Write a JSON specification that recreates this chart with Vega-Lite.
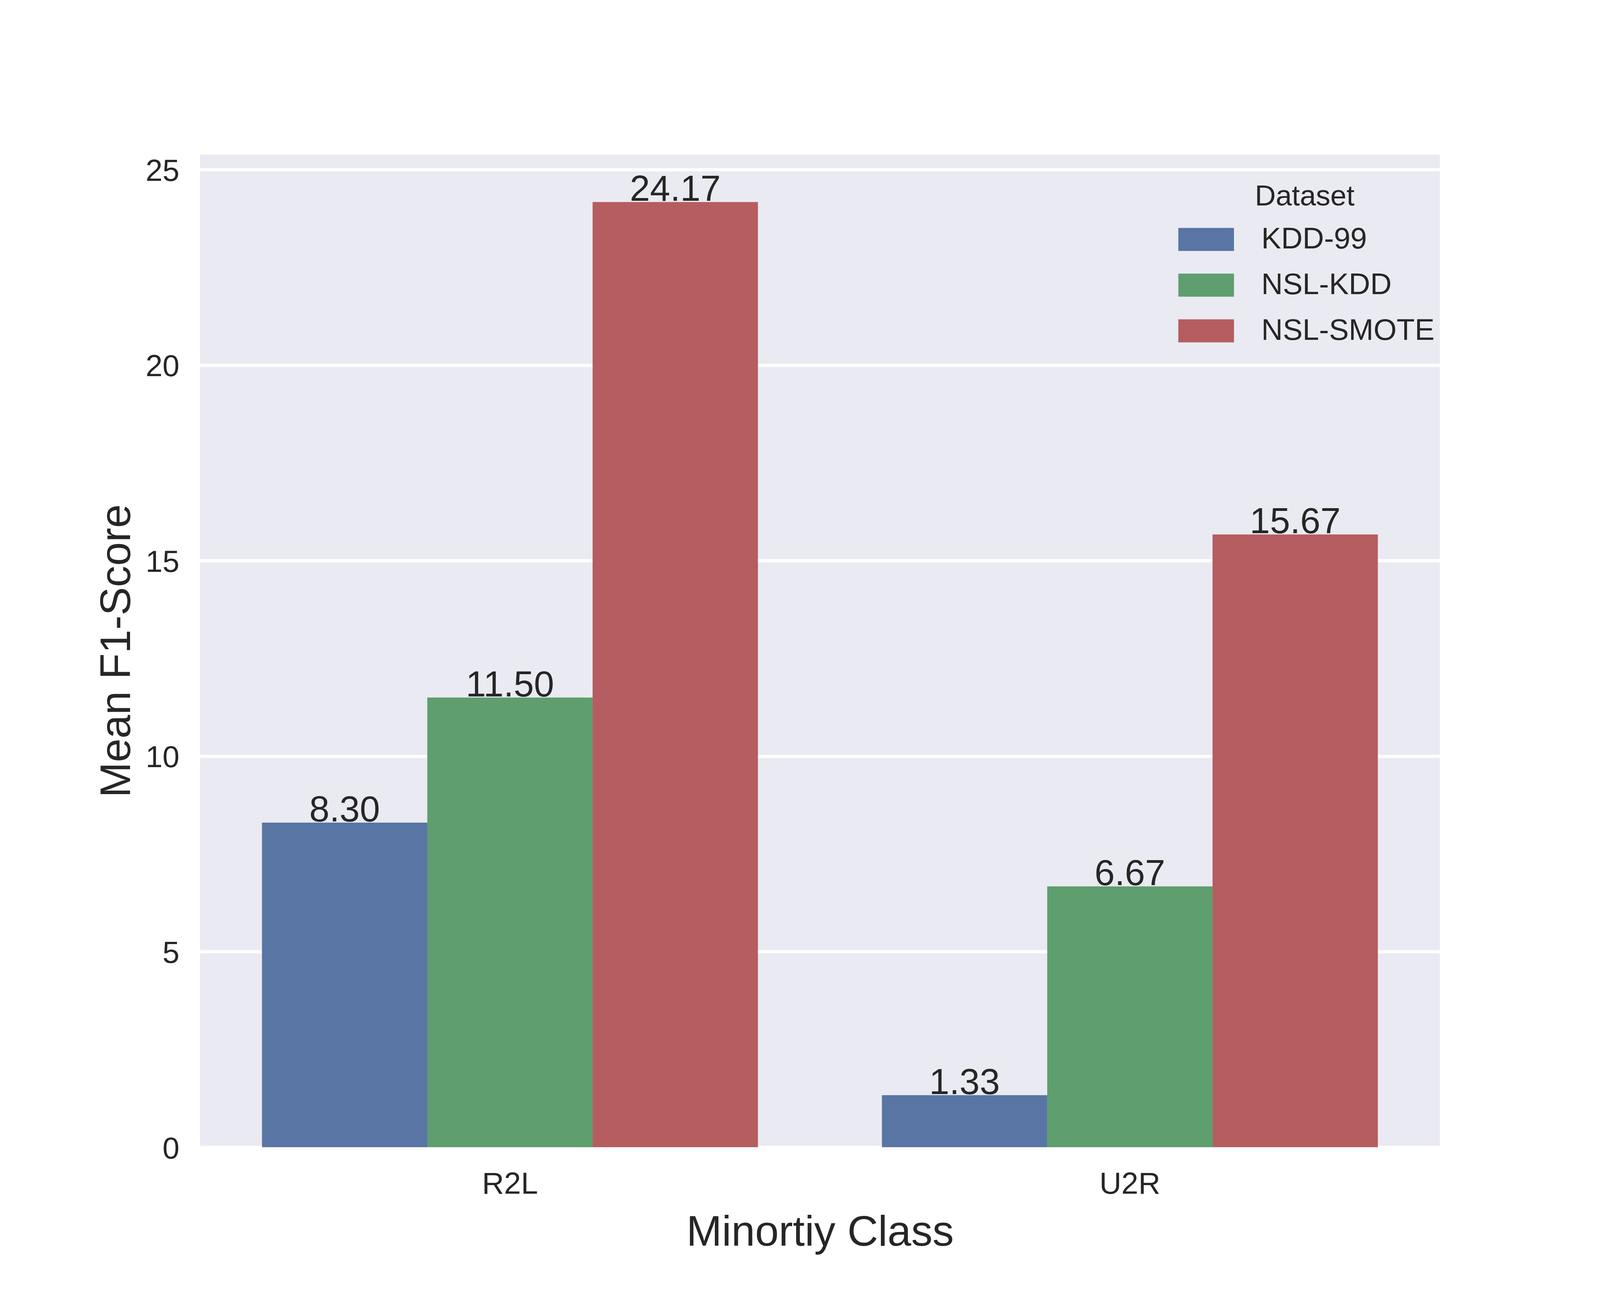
{
  "$schema": "https://vega.github.io/schema/vega-lite/v6.json",
  "width": 3174,
  "height": 2541,
  "autosize": {"type": "none"},
  "padding": {"left": 512, "top": 396, "right": 410, "bottom": 363},
  "background": "white",
  "config": {
    "font": "Liberation Sans",
    "view": {"fill": "#EAEAF2", "stroke": null},
    "axis": {
      "domain": false,
      "ticks": false,
      "tickSize": 0,
      "labelColor": "#262626",
      "titleColor": "#262626",
      "labelFontSize": 78,
      "titleFontSize": 109,
      "titleFontWeight": "normal",
      "gridColor": "white",
      "gridWidth": 8
    },
    "legend": {
      "labelFontSize": 76,
      "titleFontSize": 74,
      "titleFontWeight": "normal",
      "labelColor": "#262626",
      "titleColor": "#262626",
      "labelLimit": 2000,
      "titleLimit": 2000
    }
  },
  "data": {
    "values": [
      {"cls": "R2L", "Dataset": "KDD-99", "score": 8.30},
      {"cls": "R2L", "Dataset": "NSL-KDD", "score": 11.50},
      {"cls": "R2L", "Dataset": "NSL-SMOTE", "score": 24.17},
      {"cls": "U2R", "Dataset": "KDD-99", "score": 1.33},
      {"cls": "U2R", "Dataset": "NSL-KDD", "score": 6.67},
      {"cls": "U2R", "Dataset": "NSL-SMOTE", "score": 15.67}
    ]
  },
  "encoding": {
    "x": {
      "field": "cls",
      "type": "nominal",
      "title": "Minortiy Class",
      "scale": {"paddingInner": 0.2, "paddingOuter": 0.1},
      "axis": {
        "grid": false,
        "labelAngle": 0,
        "labelBaseline": "alphabetic",
        "labelPadding": 118,
        "titleX": 1587,
        "titleY": 251,
        "titleBaseline": "alphabetic",
        "titleAlign": "center"
      }
    },
    "xOffset": {
      "field": "Dataset",
      "type": "nominal",
      "scale": {"paddingInner": 0, "paddingOuter": 0}
    },
    "y": {
      "field": "score",
      "type": "quantitative",
      "title": "Mean F1-Score",
      "scale": {"domain": [0, 25.38], "nice": false, "zero": true},
      "axis": {
        "values": [0, 5, 10, 15, 20, 25],
        "grid": true,
        "labelPadding": 53,
        "labelBaseline": "alphabetic",
        "labelOffset": 28,
        "titleAngle": -90,
        "titleX": -180,
        "titleY": 1270,
        "titleBaseline": "alphabetic",
        "titleAlign": "center"
      }
    }
  },
  "layer": [
    {
      "mark": {"type": "bar"},
      "encoding": {
        "color": {
          "field": "Dataset",
          "type": "nominal",
          "scale": {
            "domain": ["KDD-99", "NSL-KDD", "NSL-SMOTE"],
            "range": ["#5975a4", "#5f9e6e", "#b55d60"]
          },
          "legend": {
            "orient": "none",
            "legendX": 2496,
            "legendY": 72,
            "symbolType": "M-1,-1H3.83V1H-1Z",
            "symbolSize": 3481,
            "symbolStrokeWidth": 0,
            "symbolOpacity": 1,
            "labelOffset": 145,
            "rowPadding": 41,
            "titlePadding": 33,
            "titleAnchor": "middle",
            "titleAlign": "center"
          }
        }
      }
    },
    {
      "mark": {
        "type": "text",
        "baseline": "alphabetic",
        "dy": -3,
        "fontSize": 93,
        "color": "#262626"
      },
      "encoding": {
        "text": {"field": "score", "type": "quantitative", "format": ".2f"}
      }
    }
  ]
}
